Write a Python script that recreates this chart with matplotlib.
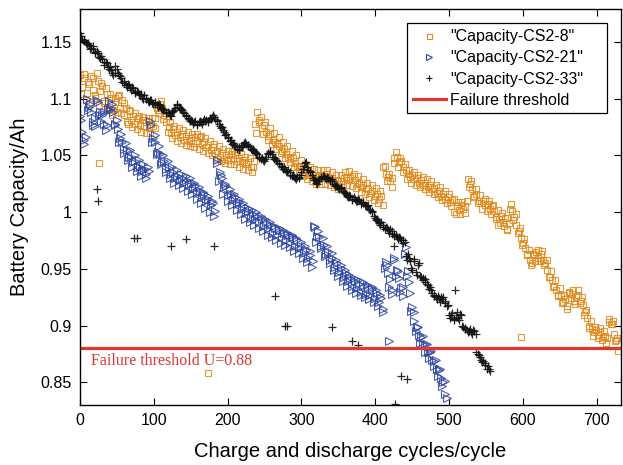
import numpy as np
import matplotlib
matplotlib.use("Agg")
import matplotlib.pyplot as plt
from matplotlib.lines import Line2D
from matplotlib.patches import Rectangle

plt.rcParams['font.family'] = ['Liberation Sans', 'DejaVu Sans']

# ---- capacity data (Ah) for each cell ----
# Two interleaved samplings per cell: cycles 0,3,6,... and cycles 2,5,8,...
cycles_cs2_8 = np.arange(0, 730, 3)
cap_cs2_8 = [
    1.121, 1.110, 1.118, 1.105, 1.113, 1.120, 1.108, 1.101, 1.116, 1.107,
    1.111, 1.098, 1.104, 1.093, 1.101, 1.090, 1.097, 1.102, 1.092, 1.099,
    1.086, 1.079, 1.090, 1.081, 1.085, 1.078, 1.083, 1.077, 1.081, 1.076,
    1.079, 1.074, 1.078, 1.076, 1.083, 1.090, 1.095, 1.092, 1.086, 1.079,
    1.075, 1.070, 1.073, 1.068, 1.071, 1.066, 1.069, 1.064, 1.067, 1.063,
    1.065, 1.061, 1.066, 1.063, 1.066, 1.060, 1.062, 1.057, 1.059, 1.055,
    1.057, 1.052, 1.054, 1.049, 1.052, 1.047, 1.050, 1.046, 1.051, 1.047,
    1.050, 1.045, 1.048, 1.044, 1.046, 1.042, 1.044, 1.040, 1.040, 1.078,
    1.088, 1.081, 1.074, 1.077, 1.071, 1.067, 1.069, 1.064, 1.062, 1.060,
    1.058, 1.054, 1.056, 1.051, 1.049, 1.047, 1.048, 1.043, 1.041, 1.040,
    1.038, 1.035, 1.037, 1.033, 1.034, 1.031, 1.033, 1.029, 1.031, 1.033,
    1.030, 1.034, 1.031, 1.028, 1.030, 1.026, 1.028, 1.025, 1.027, 1.030,
    1.031, 1.028, 1.030, 1.032, 1.028, 1.025, 1.026, 1.022, 1.024, 1.021,
    1.020, 1.017, 1.019, 1.014, 1.016, 1.012, 1.014, 1.040, 1.034, 1.031,
    1.027, 1.030, 1.048, 1.049, 1.044, 1.045, 1.040, 1.037, 1.034, 1.031,
    1.033, 1.029, 1.030, 1.026, 1.028, 1.024, 1.026, 1.022, 1.024, 1.020,
    1.021, 1.017, 1.019, 1.014, 1.016, 1.012, 1.013, 1.009, 1.011, 1.000,
    1.005, 1.002, 1.006, 1.003, 1.005, 1.029, 1.025, 1.020, 1.014, 1.016,
    1.010, 1.008, 1.010, 1.006, 1.007, 1.003, 1.005, 1.001, 0.996, 0.994,
    0.997, 0.991, 0.995, 0.985, 1.003, 1.001, 0.996, 0.989, 0.983, 0.977,
    0.973, 0.968, 0.963, 0.958, 0.955, 0.962, 0.965, 0.960, 0.963, 0.958,
    0.955, 0.949, 0.943, 0.940, 0.935, 0.931, 0.927, 0.926, 0.921, 0.923,
    0.917, 0.930, 0.928, 0.922, 0.925, 0.927, 0.922, 0.918, 0.912, 0.907,
    0.900, 0.897, 0.894, 0.896, 0.892, 0.894, 0.890, 0.891, 0.889, 0.906,
    0.901, 0.893, 0.887, 0.878,
]
cycles_cs2_8_b = np.arange(2, 730, 3)
cap_cs2_8_b = [
    1.104, 1.122, 1.099, 1.115, 1.095, 1.118, 1.103, 1.123, 1.094, 1.114,
    1.096, 1.109, 1.091, 1.104, 1.086, 1.101, 1.088, 1.103, 1.087, 1.096,
    1.092, 1.078, 1.089, 1.075, 1.087, 1.073, 1.085, 1.071, 1.084, 1.070,
    1.083, 1.070, 1.083, 1.074, 1.092, 1.087, 1.098, 1.082, 1.087, 1.071,
    1.079, 1.065, 1.076, 1.063, 1.074, 1.061, 1.072, 1.059, 1.071, 1.058,
    1.069, 1.057, 1.069, 1.056, 1.067, 1.054, 1.065, 1.052, 1.063, 1.050,
    1.060, 1.047, 1.058, 1.045, 1.056, 1.043, 1.054, 1.042, 1.054, 1.042,
    1.053, 1.040, 1.051, 1.038, 1.049, 1.037, 1.048, 1.035, 1.045, 1.070,
    1.079, 1.084, 1.069, 1.079, 1.064, 1.074, 1.060, 1.070, 1.056, 1.066,
    1.052, 1.062, 1.048, 1.058, 1.044, 1.054, 1.040, 1.050, 1.036, 1.046,
    1.032, 1.042, 1.029, 1.040, 1.027, 1.038, 1.025, 1.037, 1.025, 1.037,
    1.025, 1.037, 1.024, 1.035, 1.022, 1.033, 1.020, 1.033, 1.022, 1.035,
    1.024, 1.036, 1.023, 1.034, 1.021, 1.032, 1.018, 1.029, 1.016, 1.026,
    1.013, 1.024, 1.011, 1.021, 1.008, 1.019, 1.006, 1.041, 1.027, 1.034,
    1.022, 1.043, 1.053, 1.040, 1.048, 1.035, 1.042, 1.029, 1.037, 1.026,
    1.035, 1.024, 1.033, 1.022, 1.031, 1.020, 1.029, 1.018, 1.027, 1.016,
    1.024, 1.013, 1.022, 1.011, 1.019, 1.008, 1.016, 1.005, 1.012, 0.998,
    1.009, 0.998, 1.009, 0.999, 1.010, 1.022, 1.027, 1.013, 1.020, 1.008,
    1.015, 1.003, 1.012, 1.001, 1.010, 0.998, 1.006, 0.994, 1.002, 0.990,
    0.999, 0.988, 0.995, 0.990, 1.007, 0.993, 0.998, 0.982, 0.986, 0.971,
    0.976, 0.962, 0.967, 0.953, 0.963, 0.957, 0.967, 0.957, 0.966, 0.953,
    0.958, 0.943, 0.948, 0.934, 0.940, 0.926, 0.933, 0.920, 0.927, 0.915,
    0.929, 0.924, 0.931, 0.919, 0.931, 0.920, 0.925, 0.909, 0.914, 0.898,
    0.904, 0.891, 0.899, 0.889, 0.898, 0.887, 0.895, 0.885, 0.903, 0.901,
    0.904, 0.886, 0.889,
]
stray_cs2_8_x = [26, 174, 566, 578, 598]
stray_cs2_8_y = [1.043, 0.858, 0.989, 0.984, 0.890]

cycles_cs2_21 = np.arange(0, 498, 3)
cap_cs2_21 = [
    1.085, 1.071, 1.064, 1.100, 1.093, 1.088, 1.079, 1.076, 1.097, 1.088,
    1.086, 1.078, 1.077, 1.098, 1.092, 1.088, 1.078, 1.073, 1.065, 1.062,
    1.056, 1.055, 1.049, 1.049, 1.044, 1.045, 1.040, 1.040, 1.036, 1.037,
    1.034, 1.036, 1.077, 1.065, 1.062, 1.053, 1.051, 1.044, 1.045, 1.038,
    1.039, 1.034, 1.035, 1.030, 1.032, 1.028, 1.030, 1.026, 1.028, 1.024,
    1.026, 1.020, 1.023, 1.017, 1.019, 1.013, 1.016, 1.010, 1.012, 1.006,
    1.008, 1.001, 1.043, 1.035, 1.030, 1.022, 1.023, 1.015, 1.016, 1.011,
    1.013, 1.007, 1.009, 1.003, 1.005, 0.999, 1.001, 0.995, 0.998, 0.994,
    0.997, 0.991, 0.994, 0.988, 0.991, 0.985, 0.989, 0.982, 0.986, 0.980,
    0.984, 0.978, 0.982, 0.975, 0.980, 0.973, 0.978, 0.970, 0.975, 0.968,
    0.970, 0.964, 0.967, 0.960, 0.962, 0.957, 0.987, 0.979, 0.978, 0.970,
    0.971, 0.963, 0.965, 0.958, 0.960, 0.952, 0.955, 0.947, 0.951, 0.943,
    0.946, 0.939, 0.942, 0.935, 0.939, 0.933, 0.937, 0.930, 0.935, 0.928,
    0.934, 0.927, 0.932, 0.924, 0.929, 0.921, 0.924, 0.915, 0.956, 0.946,
    0.941, 0.931, 0.958, 0.949, 0.942, 0.933, 0.926, 0.969, 0.948, 0.929,
    0.916, 0.904, 0.899, 0.892, 0.890, 0.884, 0.884, 0.877, 0.877, 0.870,
    0.869, 0.862, 0.861, 0.854, 0.850, 0.840,
]
cycles_cs2_21_b = np.arange(2, 498, 3)
cap_cs2_21_b = [
    1.081, 1.060, 1.066, 1.090, 1.095, 1.077, 1.083, 1.099, 1.086, 1.080,
    1.088, 1.072, 1.091, 1.090, 1.095, 1.077, 1.081, 1.062, 1.069, 1.052,
    1.061, 1.046, 1.055, 1.040, 1.050, 1.036, 1.046, 1.032, 1.042, 1.030,
    1.040, 1.080, 1.062, 1.068, 1.051, 1.058, 1.042, 1.050, 1.035, 1.045,
    1.030, 1.040, 1.026, 1.037, 1.024, 1.034, 1.021, 1.032, 1.019, 1.030,
    1.016, 1.026, 1.012, 1.022, 1.008, 1.018, 1.004, 1.014, 1.000, 1.010,
    0.997, 1.046, 1.027, 1.033, 1.016, 1.025, 1.010, 1.020, 1.006, 1.016,
    1.002, 1.012, 0.998, 1.008, 0.994, 1.004, 0.991, 1.002, 0.989, 1.000,
    0.986, 0.997, 0.983, 0.994, 0.980, 0.991, 0.978, 0.988, 0.975, 0.986,
    0.973, 0.984, 0.971, 0.982, 0.969, 0.980, 0.966, 0.977, 0.964, 0.974,
    0.960, 0.970, 0.956, 0.966, 0.952, 0.988, 0.974, 0.983, 0.968, 0.977,
    0.961, 0.970, 0.955, 0.964, 0.949, 0.958, 0.944, 0.953, 0.939, 0.949,
    0.935, 0.945, 0.931, 0.942, 0.929, 0.940, 0.927, 0.938, 0.925, 0.936,
    0.923, 0.934, 0.921, 0.931, 0.917, 0.927, 0.912, 0.951, 0.953, 0.934,
    0.928, 0.960, 0.944, 0.948, 0.930, 0.934, 0.963, 0.944, 0.938, 0.913,
    0.912, 0.895, 0.899, 0.885, 0.891, 0.877, 0.884, 0.871, 0.878, 0.864,
    0.870, 0.856, 0.862, 0.847, 0.851, 0.836,
]
stray_cs2_21_x = [418]
stray_cs2_21_y = [0.886]

cycles_cs2_33 = np.arange(0, 556, 3)
cap_cs2_33 = [
    1.158, 1.153, 1.152, 1.148, 1.147, 1.145, 1.144, 1.140, 1.140, 1.136,
    1.135, 1.130, 1.131, 1.126, 1.125, 1.121, 1.129, 1.123, 1.120, 1.115,
    1.114, 1.110, 1.112, 1.108, 1.109, 1.105, 1.106, 1.103, 1.101, 1.103,
    1.100, 1.097, 1.099, 1.095, 1.097, 1.093, 1.094, 1.091, 1.090, 1.087,
    1.087, 1.085, 1.089, 1.092, 1.095, 1.092, 1.090, 1.087, 1.085, 1.082,
    1.081, 1.078, 1.080, 1.077, 1.080, 1.078, 1.082, 1.081, 1.079, 1.082,
    1.086, 1.082, 1.080, 1.076, 1.075, 1.071, 1.069, 1.065, 1.064, 1.061,
    1.058, 1.056, 1.057, 1.057, 1.061, 1.060, 1.059, 1.056, 1.056, 1.053,
    1.051, 1.048, 1.048, 1.045, 1.049, 1.052, 1.053, 1.049, 1.048, 1.045,
    1.043, 1.040, 1.040, 1.036, 1.037, 1.033, 1.033, 1.030, 1.031, 1.031,
    1.035, 1.041, 1.044, 1.037, 1.035, 1.030, 1.028, 1.025, 1.029, 1.030,
    1.032, 1.029, 1.030, 1.027, 1.027, 1.023, 1.023, 1.020, 1.021, 1.018,
    1.016, 1.013, 1.014, 1.011, 1.012, 1.010, 1.011, 1.007, 1.008, 1.005,
    1.006, 1.002, 1.001, 0.995, 0.994, 0.990, 0.991, 0.987, 0.987, 0.984,
    0.985, 0.981, 0.981, 0.978, 0.978, 0.975, 0.975, 0.961, 0.963, 0.957,
    0.949, 0.959, 0.945, 0.955, 0.943, 0.940, 0.941, 0.936, 0.934, 0.929,
    0.927, 0.923, 0.924, 0.925, 0.925, 0.920, 0.918, 0.907, 0.911, 0.906,
    0.912, 0.905, 0.909, 0.899, 0.897, 0.894, 0.897, 0.893, 0.895, 0.877,
    0.874, 0.870, 0.869, 0.865, 0.864, 0.860,
]
cycles_cs2_33_b = np.arange(2, 556, 3)
cap_cs2_33_b = [
    1.155, 1.151, 1.149, 1.149, 1.144, 1.146, 1.141, 1.142, 1.137, 1.138,
    1.132, 1.132, 1.128, 1.128, 1.123, 1.123, 1.126, 1.121, 1.118, 1.116,
    1.112, 1.113, 1.109, 1.110, 1.106, 1.107, 1.104, 1.104, 1.100, 1.101,
    1.098, 1.099, 1.096, 1.096, 1.094, 1.095, 1.092, 1.091, 1.088, 1.088,
    1.086, 1.088, 1.090, 1.094, 1.093, 1.091, 1.088, 1.086, 1.083, 1.080,
    1.080, 1.079, 1.078, 1.079, 1.079, 1.080, 1.080, 1.080, 1.083, 1.084,
    1.084, 1.081, 1.078, 1.074, 1.072, 1.068, 1.066, 1.063, 1.060, 1.059,
    1.057, 1.055, 1.058, 1.059, 1.062, 1.058, 1.057, 1.055, 1.054, 1.052,
    1.049, 1.047, 1.046, 1.047, 1.051, 1.054, 1.051, 1.047, 1.046, 1.042,
    1.041, 1.038, 1.038, 1.035, 1.035, 1.032, 1.031, 1.029, 1.030, 1.033,
    1.038, 1.043, 1.040, 1.036, 1.033, 1.028, 1.026, 1.027, 1.031, 1.032,
    1.030, 1.031, 1.028, 1.029, 1.025, 1.024, 1.021, 1.022, 1.019, 1.017,
    1.014, 1.015, 1.012, 1.013, 1.010, 1.012, 1.009, 1.009, 1.006, 1.005,
    1.003, 1.000, 0.997, 0.993, 0.992, 0.989, 0.989, 0.985, 0.986, 0.982,
    0.983, 0.979, 0.980, 0.976, 0.977, 0.973, 0.974, 0.958, 0.960, 0.951,
    0.957, 0.947, 0.953, 0.944, 0.942, 0.938, 0.937, 0.932, 0.931, 0.926,
    0.925, 0.926, 0.921, 0.923, 0.922, 0.917, 0.909, 0.909, 0.905, 0.908,
    0.907, 0.910, 0.900, 0.898, 0.896, 0.895, 0.894, 0.896, 0.893, 0.875,
    0.872, 0.868, 0.867, 0.862, 0.862,
]
stray_cs2_33_x = [23, 25, 73, 77, 123, 144, 182, 264, 278, 281, 341, 368, 376,
                  426, 427, 435, 443, 508]
stray_cs2_33_y = [1.020, 1.010, 0.977, 0.977, 0.970, 0.976, 0.970, 0.926, 0.900,
                  0.900, 0.899, 0.886, 0.883, 0.970, 0.831, 0.856, 0.853, 0.931]

threshold = 0.88
series_labels = ['"Capacity-CS2-8"', '"Capacity-CS2-21"', '"Capacity-CS2-33"',
                 'Failure threshold']
xticks = [0, 100, 200, 300, 400, 500, 600, 700]
yticks = [0.85, 0.9, 0.95, 1.0, 1.05, 1.1, 1.15]
ytick_labels = ['0.85', '0.9', '0.95', '1', '1.05', '1.1', '1.15']

ORANGE = '#E3891A'
BLUE = '#2B45A3'
RED = '#E3342D'

fig = plt.figure(figsize=(6.23, 4.65), dpi=100)
ax = fig.add_axes([0.1284, 0.129, 0.8686, 0.8516])

sq = dict(marker='s', ms=5.0, mfc='none', mec=ORANGE, mew=0.8, ls='none', alpha=0.85)
tri = dict(marker='>', ms=5.8, mfc='none', mec=BLUE, mew=0.8, ls='none', alpha=0.85)
plus = dict(marker='+', ms=5.8, mec='#111111', mew=0.9, ls='none', alpha=0.9)

for xs, ys in [(cycles_cs2_8, cap_cs2_8), (cycles_cs2_8_b, cap_cs2_8_b),
               (stray_cs2_8_x, stray_cs2_8_y)]:
    ax.plot(xs, ys, **sq)
for xs, ys in [(cycles_cs2_21, cap_cs2_21), (cycles_cs2_21_b, cap_cs2_21_b),
               (stray_cs2_21_x, stray_cs2_21_y)]:
    ax.plot(xs, ys, **tri)
for xs, ys in [(cycles_cs2_33, cap_cs2_33), (cycles_cs2_33_b, cap_cs2_33_b),
               (stray_cs2_33_x, stray_cs2_33_y)]:
    ax.plot(xs, ys, **plus)
ax.axhline(threshold, color=RED, lw=2.3)

ax.text(15, 0.8687, 'Failure threshold U=0.88', color=RED, va='center', ha='left',
        fontsize=11.5, family=['Liberation Serif', 'DejaVu Serif'])

ax.set_xlim(0, 733)
ax.set_ylim(0.83, 1.179)
ax.set_xticks(xticks)
ax.set_yticks(yticks)
ax.set_yticklabels(ytick_labels)
ax.tick_params(direction='in', top=True, right=True, length=5, width=0.8,
               labelsize=11.5, pad=6)
for s in ax.spines.values():
    s.set_linewidth(1.0)

ax.set_xlabel('Charge and discharge cycles/cycle', fontsize=14.5, labelpad=10)
ax.set_ylabel('Battery Capacity/Ah', fontsize=14.5, labelpad=8)

# legend: boxed panel with wide right margin
box_x0, box_y0, box_w, box_h = 0.6044, 0.7374, 0.3697, 0.2272
ax.add_patch(Rectangle((box_x0, box_y0), box_w, box_h, transform=ax.transAxes,
                       facecolor='white', edgecolor='black', lw=0.9, zorder=4.9))
handles = [
    Line2D([], [], marker='s', ms=3.6, mfc='none', mec=ORANGE, mew=0.8, ls='none'),
    Line2D([], [], marker='>', ms=4.2, mfc='none', mec=BLUE, mew=0.8, ls='none'),
    Line2D([], [], marker='+', ms=4.6, mec='#111111', mew=0.8, ls='none'),
    Line2D([], [], color=RED, lw=2.3),
]
leg = ax.legend(handles, series_labels, loc='upper left',
                bbox_to_anchor=(box_x0, box_y0 + box_h), borderaxespad=0,
                fontsize=11.5, handlelength=2.05, handletextpad=0.25,
                labelspacing=0.39, borderpad=0.38, frameon=False)
leg.set_zorder(5)

fig.savefig('out.png', dpi=100)
